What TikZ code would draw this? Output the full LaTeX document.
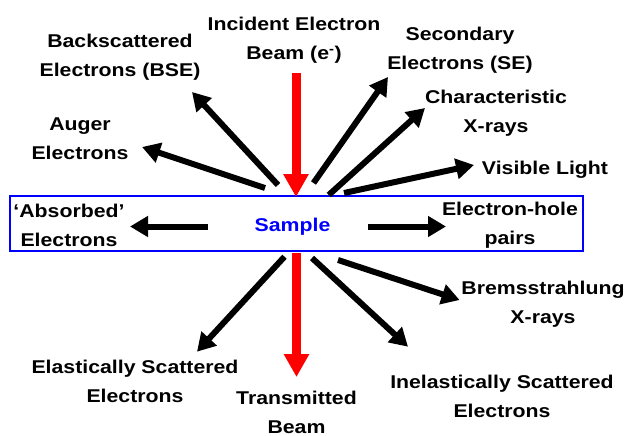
\documentclass[tikz,border=0pt]{standalone}
\usepackage{fontspec}
\setmainfont{Liberation Sans}[FakeStretch=1.15]
\usetikzlibrary{arrows.meta}
\definecolor{pureblue}{RGB}{0,0,255}
\definecolor{purered}{RGB}{255,0,0}
\begin{document}
\begin{tikzpicture}[x=1pt,y=-1pt,
  lbl/.style={inner sep=0pt, align=center, font=\fontsize{18.5}{29}\selectfont\bfseries},
  blk/.style={line width=6pt, -{Triangle[length=18pt,width=20pt]}},
  redarr/.style={line width=9pt, purered, -{Triangle[length=23pt,width=24pt]}}]
\useasboundingbox (0,0) rectangle (624,436);
% sample box
\node[draw=pureblue, line width=2pt, minimum width=573pt, minimum height=55pt, inner sep=0pt] (box) at (296.5,223.5) {};
\node[lbl, text=pureblue] (sample) at (292.5,226.5) {Sample};
% labels
\node[lbl] (inc) at (294,40.5) {Incident Electron\\Beam (e\textsuperscript{-})};
\node[lbl] (bse) at (120,57.5) {Backscattered\\Electrons (BSE)};
\node[lbl] (auger) at (80,138.5) {Auger\\Electrons};
\node[lbl] (se) at (460,50) {Secondary\\Electrons (SE)};
\node[lbl] (char) at (496,113.5) {Characteristic\\X-rays};
\node[lbl] (vis) at (545,170) {Visible Light};
\node[lbl] (abs) at (69,225.5) {‘Absorbed’\\Electrons};
\node[lbl] (ehp) at (510,225.5) {Electron-hole\\pairs};
\node[lbl] (brem) at (543,304) {Bremsstrahlung\\X-rays};
\node[lbl] (ela) at (135,381.5) {Elastically Scattered\\Electrons};
\node[lbl] (trans) at (296.5,412) {Transmitted\\Beam};
\node[lbl] (inel) at (502,396) {Inelastically Scattered\\Electrons};
% arrow end points
\coordinate (incT) at (296,73);   \coordinate (incH) at (296,197);
\coordinate (trT) at (296.5,253); \coordinate (trH) at (296.5,377);
\coordinate (bseT) at (278,185);  \coordinate (bseH) at (192,92);
\coordinate (augT) at (265,188);  \coordinate (augH) at (142,147);
\coordinate (seT) at (313.5,183); \coordinate (seH) at (388,77);
\coordinate (chT) at (328.7,195); \coordinate (chH) at (425,108);
\coordinate (visT) at (344,193);  \coordinate (visH) at (474,165);
\coordinate (absT) at (208,226.5); \coordinate (absH) at (130,226.5);
\coordinate (ehT) at (368,226.5);  \coordinate (ehH) at (446,226.5);
\coordinate (elT) at (284.5,256.7); \coordinate (elH) at (197,351.7);
\coordinate (inT) at (312,258);   \coordinate (inH) at (408,346.7);
\coordinate (brT) at (338,260);   \coordinate (brH) at (459.6,300);
% arrows
\draw[redarr] (incT) -- (incH);
\draw[redarr] (trT) -- (trH);
\draw[blk] (bseT) -- (bseH);
\draw[blk] (augT) -- (augH);
\draw[blk] (seT) -- (seH);
\draw[blk] (chT) -- (chH);
\draw[blk] (visT) -- (visH);
\draw[blk] (absT) -- (absH);
\draw[blk] (ehT) -- (ehH);
\draw[blk] (elT) -- (elH);
\draw[blk] (inT) -- (inH);
\draw[blk] (brT) -- (brH);
\end{tikzpicture}
\end{document}
